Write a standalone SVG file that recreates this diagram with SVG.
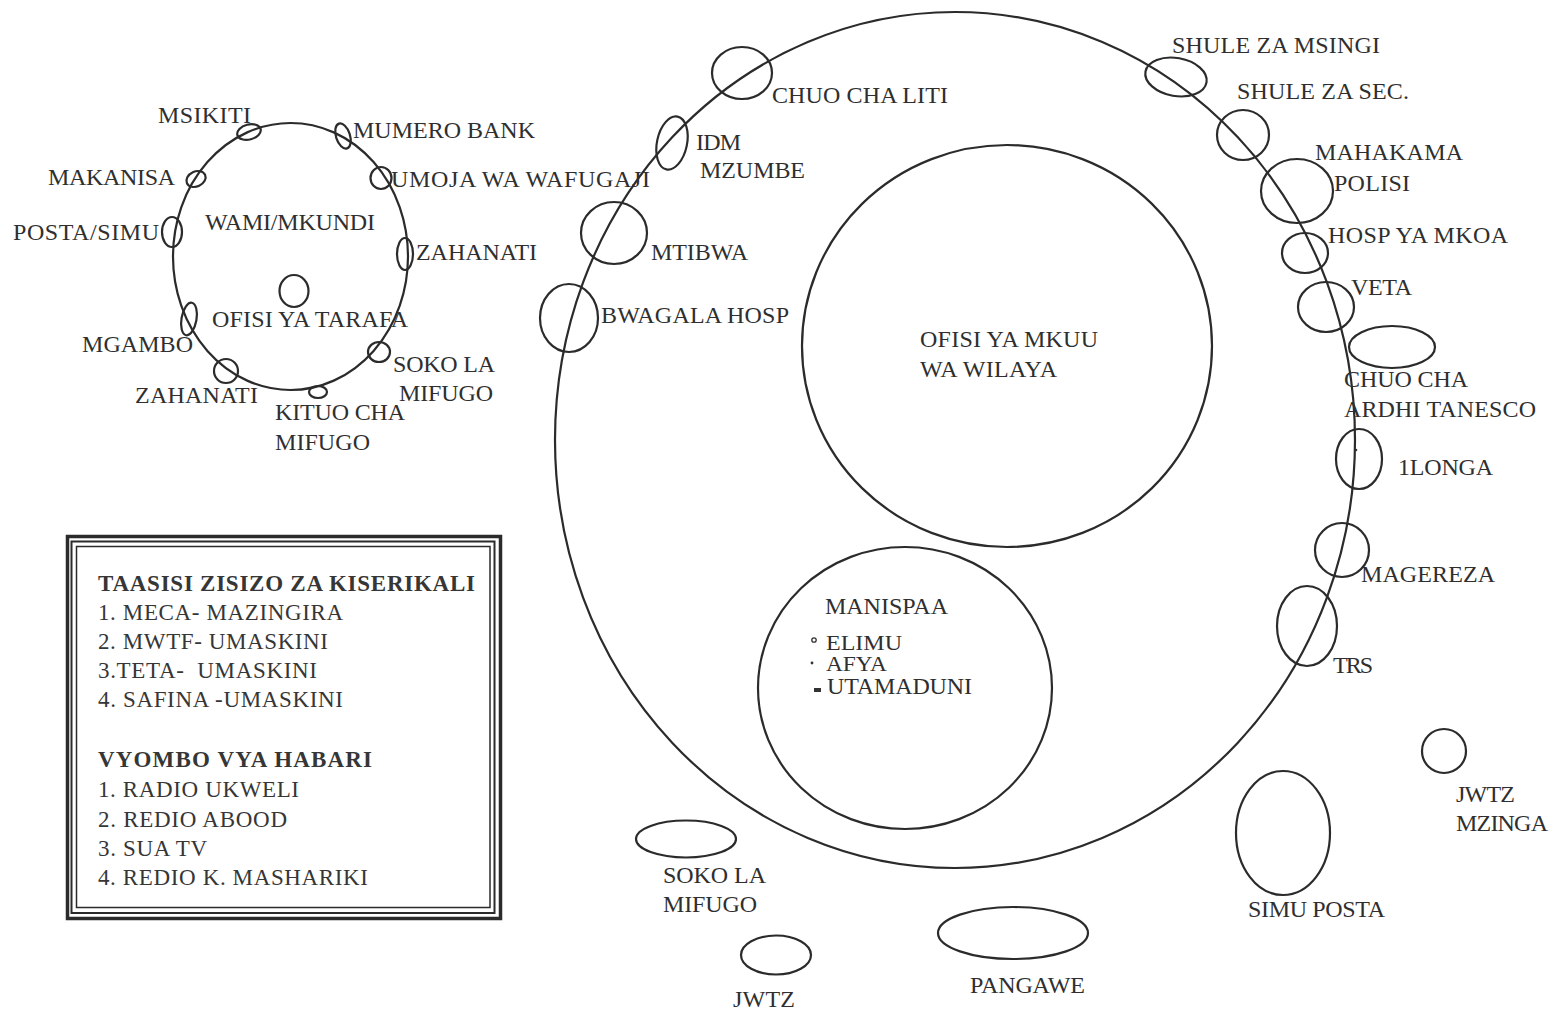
<svg xmlns="http://www.w3.org/2000/svg" width="1556" height="1013" viewBox="0 0 1556 1013">
<style>
.s{fill:none;stroke:#2b2b2b;stroke-width:2.2}
.t{font-family:"Liberation Serif","Times New Roman",serif;font-size:24px;fill:#2f2f2f}
.m{font-size:21px}
.l{font-family:"Liberation Serif","Times New Roman",serif;font-size:23px;fill:#363636}
.b{font-weight:bold}
</style>
<rect width="1556" height="1013" fill="#ffffff"/>

<g id="wilaya-boundary">
<ellipse class="s" cx="955" cy="440" rx="400" ry="428"/>
</g>

<g id="ofisi-mkuu-wilaya">
<ellipse class="s" cx="1007" cy="346" rx="205" ry="201"/>
<text class="t" x="920" y="347" textLength="178">OFISI YA MKUU</text>
<text class="t" x="920" y="377" textLength="137">WA WILAYA</text>
</g>

<g id="manispaa">
<ellipse class="s" cx="905" cy="688" rx="147" ry="141"/>
<text class="t" x="825" y="614" textLength="123">MANISPAA</text>
<circle cx="814" cy="640" r="2.2" fill="none" stroke="#333" stroke-width="1.3"/>
<text class="t m" x="826" y="650" textLength="76" lengthAdjust="spacingAndGlyphs">ELIMU</text>
<circle cx="812" cy="663" r="1.4" fill="#333"/>
<text class="t m" x="826" y="671" textLength="61" lengthAdjust="spacingAndGlyphs">AFYA</text>
<rect x="814" y="688" width="7" height="4" fill="#333"/>
<text class="t" x="827" y="694" textLength="145">UTAMADUNI</text>
</g>

<g id="wami-mkundi">
<ellipse class="s" cx="290.5" cy="256.5" rx="117.5" ry="133.5"/>
<text class="t" x="205" y="230" textLength="170">WAMI/MKUNDI</text>
</g>
<g id="ofisi-tarafa">
<ellipse class="s" cx="294" cy="291" rx="14.5" ry="16"/>
<text class="t" x="212" y="327" textLength="196">OFISI YA TARAFA</text>
</g>
<g id="msikiti">
<ellipse class="s" cx="249" cy="132" rx="12" ry="7.5" transform="rotate(-15 249 132)"/>
<text class="t" x="158" y="123" textLength="93">MSIKITI</text>
</g>
<g id="mumero-bank">
<ellipse class="s" cx="343" cy="136" rx="7" ry="13" transform="rotate(-18 343 136)"/>
<text class="t" x="353" y="138" textLength="182">MUMERO BANK</text>
</g>
<g id="makanisa">
<ellipse class="s" cx="196" cy="179" rx="10" ry="7.5" transform="rotate(-25 196 179)"/>
<text class="t" x="48" y="185" textLength="127">MAKANISA</text>
</g>
<g id="umoja-wafugaji">
<ellipse class="s" cx="381" cy="178" rx="10.5" ry="11"/>
<text class="t" x="391" y="187" textLength="259">UMOJA WA WAFUGAJI</text>
</g>
<g id="posta-simu">
<ellipse class="s" cx="172" cy="232" rx="10" ry="15"/>
<text class="t" x="13" y="240" textLength="146">POSTA/SIMU</text>
</g>
<g id="zahanati-1">
<ellipse class="s" cx="405" cy="254" rx="8" ry="16"/>
<text class="t" x="416" y="260" textLength="121">ZAHANATI</text>
</g>
<g id="mgambo">
<ellipse class="s" cx="189" cy="319" rx="7.5" ry="16.5" transform="rotate(10 189 319)"/>
<text class="t" x="82" y="352" textLength="111">MGAMBO</text>
</g>
<g id="zahanati-2">
<ellipse class="s" cx="226" cy="371" rx="12" ry="12"/>
<text class="t" x="135" y="403" textLength="123">ZAHANATI</text>
</g>
<g id="kituo-mifugo">
<ellipse class="s" cx="318" cy="392" rx="9" ry="6"/>
<text class="t" x="275" y="420" textLength="130">KITUO CHA</text>
<text class="t" x="275" y="450" textLength="95">MIFUGO</text>
</g>
<g id="soko-mifugo-1">
<ellipse class="s" cx="379" cy="352" rx="11" ry="10"/>
<text class="t" x="393" y="372" textLength="102">SOKO LA</text>
<text class="t" x="399" y="401" textLength="94">MIFUGO</text>
</g>

<g id="chuo-liti">
<ellipse class="s" cx="742" cy="73" rx="30" ry="26"/>
<text class="t" x="772" y="103" textLength="176">CHUO CHA LITI</text>
</g>
<g id="idm-mzumbe">
<ellipse class="s" cx="672" cy="143" rx="15" ry="27" transform="rotate(12 672 143)"/>
<text class="t" x="696" y="150" textLength="45">IDM</text>
<text class="t" x="700" y="178" textLength="105">MZUMBE</text>
</g>
<g id="mtibwa">
<ellipse class="s" cx="614" cy="233" rx="33" ry="31"/>
<text class="t" x="651" y="260" textLength="97">MTIBWA</text>
</g>
<g id="bwagala-hosp">
<ellipse class="s" cx="569" cy="318" rx="29" ry="34"/>
<text class="t" x="601" y="323" textLength="188">BWAGALA HOSP</text>
</g>
<g id="shule-msingi">
<ellipse class="s" cx="1176" cy="77" rx="31" ry="19" transform="rotate(10 1176 77)"/>
<text class="t" x="1172" y="53" textLength="208">SHULE ZA MSINGI</text>
</g>
<g id="shule-sec">
<ellipse class="s" cx="1243" cy="135" rx="26" ry="25"/>
<text class="t" x="1237" y="99" textLength="172">SHULE ZA SEC.</text>
</g>
<g id="mahakama-polisi">
<ellipse class="s" cx="1297" cy="191" rx="36" ry="32"/>
<text class="t" x="1315" y="160" textLength="148">MAHAKAMA</text>
<text class="t" x="1334" y="191" textLength="76">POLISI</text>
</g>
<g id="hosp-mkoa">
<ellipse class="s" cx="1305" cy="253" rx="23" ry="20"/>
<text class="t" x="1328" y="243" textLength="180">HOSP YA MKOA</text>
</g>
<g id="veta">
<ellipse class="s" cx="1326" cy="307" rx="28" ry="25"/>
<text class="t" x="1351" y="295" textLength="61">VETA</text>
</g>
<g id="chuo-ardhi-tanesco">
<ellipse class="s" cx="1392" cy="347" rx="43" ry="21"/>
<text class="t" x="1344" y="387" textLength="124">CHUO CHA</text>
<text class="t" x="1344" y="417" textLength="192">ARDHI TANESCO</text>
</g>
<g id="ilonga">
<ellipse class="s" cx="1359" cy="459" rx="23" ry="30"/>
<circle cx="1356" cy="450" r="1.3" fill="#333"/>
<text class="t" x="1398" y="475" textLength="95">1LONGA</text>
</g>
<g id="magereza">
<ellipse class="s" cx="1342" cy="550" rx="27" ry="27"/>
<text class="t" x="1361" y="582" textLength="134">MAGEREZA</text>
</g>
<g id="trs">
<ellipse class="s" cx="1307" cy="626" rx="30" ry="40"/>
<text class="t" x="1333" y="673" textLength="40">TRS</text>
</g>
<g id="jwtz-mzinga">
<ellipse class="s" cx="1444" cy="751" rx="22" ry="22"/>
<text class="t" x="1456" y="802" textLength="59">JWTZ</text>
<text class="t" x="1456" y="831" textLength="92">MZINGA</text>
</g>
<g id="simu-posta">
<ellipse class="s" cx="1283" cy="833" rx="47" ry="62"/>
<text class="t" x="1248" y="917" textLength="137">SIMU POSTA</text>
</g>
<g id="pangawe">
<ellipse class="s" cx="1013" cy="933" rx="75" ry="26"/>
<text class="t" x="970" y="993" textLength="115">PANGAWE</text>
</g>
<g id="soko-mifugo-2">
<ellipse class="s" cx="686" cy="839" rx="50" ry="18.5"/>
<text class="t" x="663" y="883" textLength="103">SOKO LA</text>
<text class="t" x="663" y="912" textLength="94">MIFUGO</text>
</g>
<g id="jwtz">
<ellipse class="s" cx="776" cy="955" rx="35" ry="19.5"/>
<text class="t" x="733" y="1007" textLength="62">JWTZ</text>
</g>

<g id="legend">
<rect x="67.5" y="536.5" width="433" height="382" fill="none" stroke="#2b2b2b" stroke-width="3.5"/>
<rect x="71.5" y="541.5" width="423" height="371.5" fill="none" stroke="#2b2b2b" stroke-width="2"/>
<rect x="76.5" y="546.5" width="413.5" height="361" fill="none" stroke="#2b2b2b" stroke-width="1.5"/>
<text class="l b" x="98" y="591" textLength="377">TAASISI ZISIZO ZA KISERIKALI</text>
<text class="l" x="98" y="620" textLength="245">1. MECA- MAZINGIRA</text>
<text class="l" x="98" y="649" textLength="230">2. MWTF- UMASKINI</text>
<text class="l" x="98" y="678" textLength="219" xml:space="preserve">3.TETA-  UMASKINI</text>
<text class="l" x="98" y="707" textLength="245">4. SAFINA -UMASKINI</text>
<text class="l b" x="98" y="767" textLength="274">VYOMBO VYA HABARI</text>
<text class="l" x="98" y="797" textLength="201">1. RADIO UKWELI</text>
<text class="l" x="98" y="827" textLength="189">2. REDIO ABOOD</text>
<text class="l" x="98" y="856" textLength="109">3. SUA TV</text>
<text class="l" x="98" y="885" textLength="270">4. REDIO K. MASHARIKI</text>
</g>
</svg>
